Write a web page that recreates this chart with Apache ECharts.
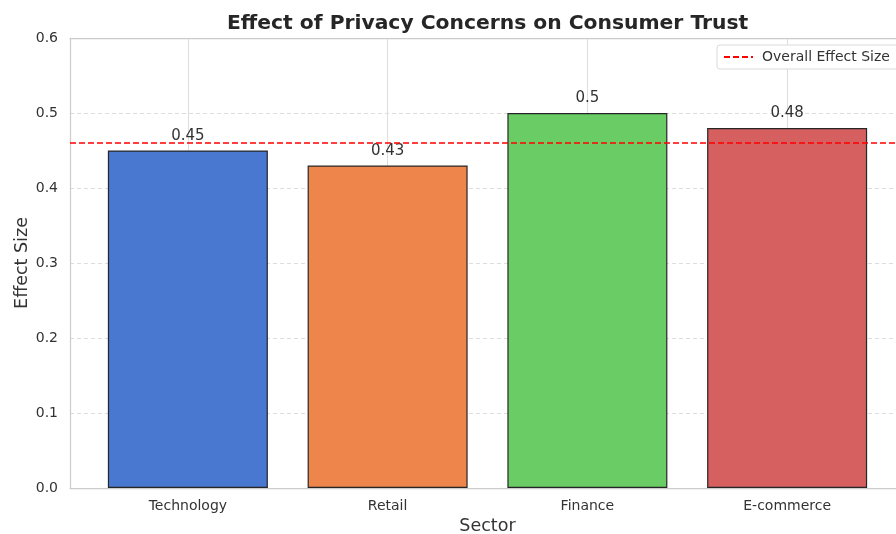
<!DOCTYPE html>
<html>
<head>
<meta charset="utf-8">
<script src="https://cdn.jsdelivr.net/npm/echarts@6/dist/echarts.min.js"></script>
<style>html,body{margin:0;padding:0;background:#fff;overflow:hidden;}#c{width:896px;height:534px;}</style>
</head>
<body>
<div id="c"></div>
<script>
const categories = ['Technology', 'Retail', 'Finance', 'E-commerce'];
const effectSizes = [0.45, 0.43, 0.5, 0.48];
const barColors = ['#4878d0', '#ee854a', '#6acc64', '#d65f5f'];
const overallEffect = 0.46;
const yTicks = [0, 0.1, 0.2, 0.3, 0.4, 0.5, 0.6];

const positions = categories.map((c, i) => i);
const FONT = 'DejaVu Sans';

const chart = echarts.init(document.getElementById('c'), null, {renderer: 'canvas'});
chart.setOption({
  animation: false,
  backgroundColor: '#ffffff',
  textStyle: {fontFamily: FONT},
  title: {
    text: 'Effect of Privacy Concerns on Consumer Trust',
    left: 222, top: 9,
    textStyle: {fontFamily: FONT, fontSize: 20.3, fontWeight: 'bold', color: '#262626'}
  },
  legend: {
    data: ['Overall Effect Size'],
    left: 717, top: 45,
    padding: [5, 20, 5, 6],
    itemWidth: 29, itemHeight: 10, itemGap: 10,
    itemStyle: {opacity: 0},
    backgroundColor: '#ffffff',
    borderColor: '#d9d9d9', borderWidth: 1, borderRadius: 3,
    textStyle: {fontFamily: FONT, fontSize: 14, color: '#333333', padding: [0, 0, 0, 4]}
  },
  grid: {left: 70, top: 38, right: -9, bottom: 46, containLabel: false, outerBoundsMode: 'none'},
  xAxis: [{
    type: 'value', min: -0.59, max: 3.59,
    name: 'Sector', nameLocation: 'middle', nameGap: 29, nameMoveOverlap: false,
    nameTextStyle: {fontFamily: FONT, fontSize: 17.5, color: '#333333'},
    axisLine: {show: true, onZero: false, lineStyle: {color: '#cccccc', width: 1.25}},
    axisTick: {show: false, customValues: positions},
    axisLabel: {
      customValues: positions, margin: 11,
      fontFamily: FONT, fontSize: 14, color: '#333333',
      formatter: v => categories[Math.round(v)]
    },
    splitLine: {show: true, lineStyle: {color: '#dddddd', width: 1}}
  }, {
    type: 'value', min: -0.59, max: 3.59, position: 'top',
    axisLine: {show: true, onZero: false, lineStyle: {color: '#cccccc', width: 1.25}},
    axisTick: {show: false}, axisLabel: {show: false}, splitLine: {show: false}
  }],
  yAxis: [{
    type: 'value', min: 0, max: 0.6, interval: 0.1,
    name: 'Effect Size', nameLocation: 'middle', nameGap: 39, nameMoveOverlap: false,
    nameTextStyle: {fontFamily: FONT, fontSize: 17.5, color: '#333333'},
    axisLine: {show: true, onZero: false, lineStyle: {color: '#cccccc', width: 1.25}},
    axisTick: {show: false},
    axisLabel: {margin: 12, fontFamily: FONT, fontSize: 14, color: '#333333',
      formatter: v => v.toFixed(1)},
    splitLine: {show: true, lineStyle: {color: '#dddddd', width: 1, type: [4, 3]}}
  }, {
    type: 'value', min: 0, max: 0.6, position: 'right',
    axisLine: {show: true, onZero: false, lineStyle: {color: '#cccccc'}},
    axisTick: {show: false}, axisLabel: {show: false}, splitLine: {show: false}
  }],
  series: [{
    type: 'bar',
    name: 'Effect Size',
    barWidth: 160,
    data: effectSizes.map((v, i) => ({
      value: [positions[i], v],
      itemStyle: {color: barColors[i], borderColor: '#262626', borderWidth: 1.2}
    })),
    label: {
      show: true, position: 'top', distance: 7,
      fontFamily: FONT, fontSize: 15, color: '#333333',
      formatter: p => String(p.value[1])
    },
    z: 3
  }, {
    type: 'line',
    name: 'Overall Effect Size',
    data: [],
    symbol: 'none',
    lineStyle: {color: '#ff0000', width: 1.5, type: [6, 3]},
    itemStyle: {color: '#ff0000'},
    markLine: {
      silent: true, symbol: 'none',
      label: {show: false},
      lineStyle: {color: '#ff0000', width: 1.5, type: [6, 3]},
      data: [{yAxis: overallEffect}]
    },
    z: 5
  }]
});
</script>
</body>
</html>
